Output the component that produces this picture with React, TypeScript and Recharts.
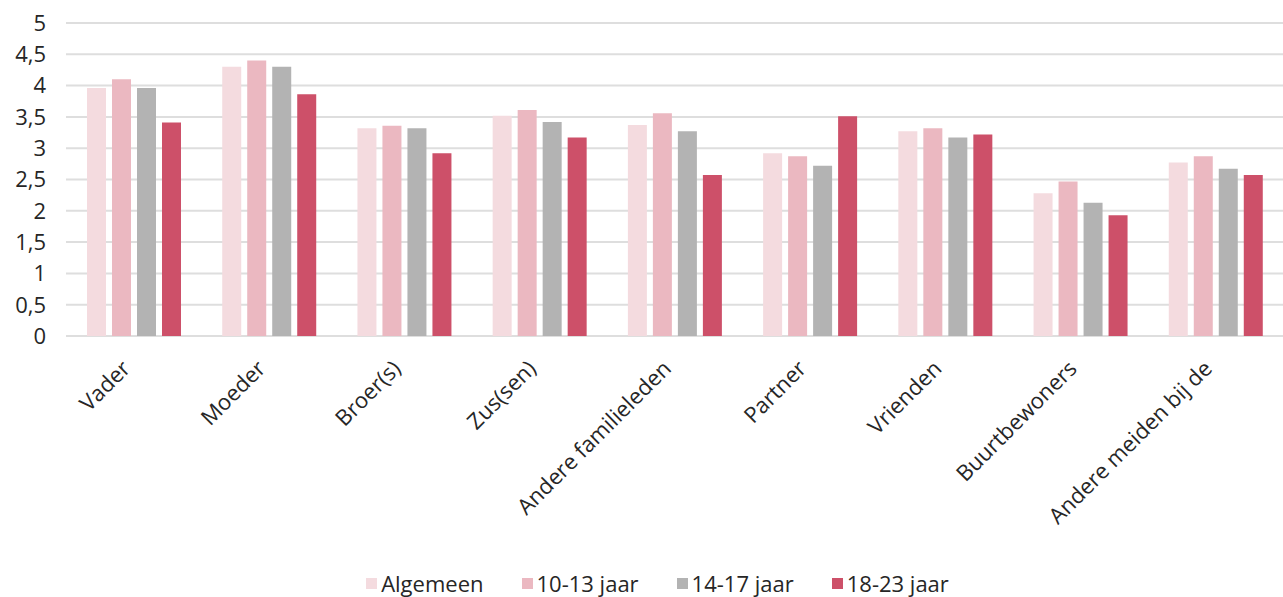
import { BarChart, Bar, XAxis, YAxis, CartesianGrid, Legend } from 'recharts'

const categories = [
  'Vader',
  'Moeder',
  'Broer(s)',
  'Zus(sen)',
  'Andere familieleden',
  'Partner',
  'Vrienden',
  'Buurtbewoners',
  'Andere meiden bij de',
]

const algemeen = [3.96, 4.3, 3.32, 3.52, 3.37, 2.92, 3.27, 2.28, 2.77]
const jaar10_13 = [4.1, 4.4, 3.36, 3.61, 3.56, 2.87, 3.32, 2.47, 2.87]
const jaar14_17 = [3.96, 4.3, 3.32, 3.42, 3.27, 2.72, 3.17, 2.13, 2.67]
const jaar18_23 = [3.41, 3.86, 2.92, 3.17, 2.57, 3.51, 3.22, 1.93, 2.57]

const yTicks = [0, 0.5, 1, 1.5, 2, 2.5, 3, 3.5, 4, 4.5, 5]

const series = [
  { key: 'algemeen', name: 'Algemeen', color: '#F4DBDF' },
  { key: 'jaar10_13', name: '10-13 jaar', color: '#EBB8C1' },
  { key: 'jaar14_17', name: '14-17 jaar', color: '#B3B3B3' },
  { key: 'jaar18_23', name: '18-23 jaar', color: '#CD5069' },
]

const data = categories.map((name, i) => ({
  name,
  algemeen: algemeen[i],
  jaar10_13: jaar10_13[i],
  jaar14_17: jaar14_17[i],
  jaar18_23: jaar18_23[i],
}))

const font = '"Open Sans", sans-serif'
const textColor = '#262626'

function XTick({ x, y, payload }: any) {
  const tx = x - 2
  const ty = y + 26
  return (
    <text
      x={tx}
      y={ty}
      transform={`rotate(-45, ${tx}, ${ty})`}
      textAnchor="end"
      fill={textColor}
      fontSize={22}
      fontFamily={font}
    >
      {payload.value}
    </text>
  )
}

function LegendContent() {
  return (
    <div
      style={{
        display: 'flex',
        justifyContent: 'center',
        paddingTop: 32,
        fontFamily: font,
        fontSize: 22,
        color: textColor,
        paddingLeft: 70,
      }}
    >
      {series.map((s) => (
        <div key={s.key} style={{ display: 'flex', alignItems: 'center', marginRight: 38 }}>
          <span style={{ width: 11, height: 11, background: s.color, marginRight: 4, display: 'inline-block' }} />
          <span>{s.name}</span>
        </div>
      ))}
    </div>
  )
}

export default function App() {
  return (
    <div>
      <style>{`body{margin:0}`}</style>
      <BarChart
        width={1283}
        height={597}
        data={data}
        margin={{ top: 23, right: 0, bottom: 0, left: 0 }}
        barSize={19}
        barGap={6}
      >
        <CartesianGrid vertical={false} stroke="#DEDEDE" strokeWidth={2} />
        <XAxis
          dataKey="name"
          interval={0}
          height={200}
          axisLine={false}
          tickLine={false}
          tick={<XTick />}
        />
        <YAxis
          width={66}
          domain={[0, 5]}
          ticks={yTicks}
          axisLine={false}
          tickLine={false}
          tickMargin={14}
          tickFormatter={(v: number) => String(v).replace('.', ',')}
          tick={{ fill: textColor, fontSize: 22, fontFamily: font }}
        />
        <Legend verticalAlign="bottom" height={61} content={<LegendContent />} />
        {series.map((s) => (
          <Bar key={s.key} dataKey={s.key} name={s.name} fill={s.color} isAnimationActive={false} />
        ))}
      </BarChart>
    </div>
  )
}
